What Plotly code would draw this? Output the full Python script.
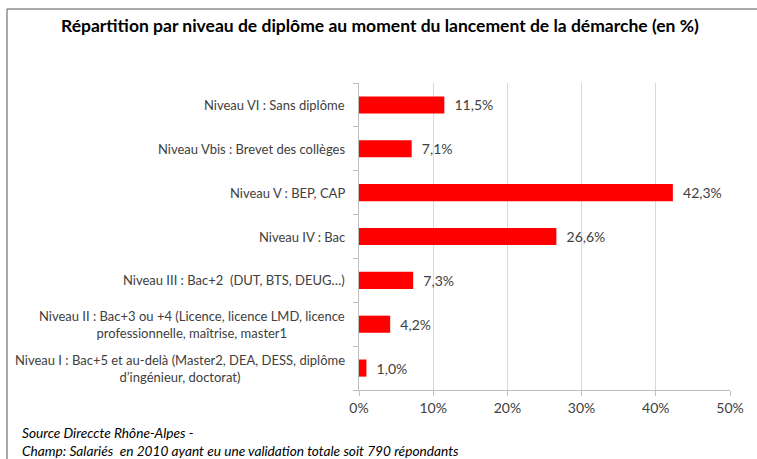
import plotly.graph_objects as go

categories = [
    "Niveau VI : Sans diplôme",
    "Niveau Vbis : Brevet des collèges",
    "Niveau V : BEP, CAP",
    "Niveau IV : Bac",
    "Niveau III : Bac+2  (DUT, BTS, DEUG…)",
    "Niveau II : Bac+3 ou +4 (Licence, licence LMD, licence<br>professionnelle, maîtrise, master1",
    "Niveau I : Bac+5 et au-delà (Master2, DEA, DESS, diplôme<br>d’ingénieur, doctorat)",
]
values = [11.5, 7.1, 42.3, 26.6, 7.3, 4.2, 1.0]
x_ticks = [0, 10, 20, 30, 40, 50]
x_ticklabels = ["0%", "10%", "20%", "30%", "40%", "50%"]

FONT = "Lato, Calibri, Carlito, sans-serif"
W, H = 757, 459
L, R, T, B = 359, 27, 83, 69
pw, ph = W - L - R, H - T - B

def px2x(px):
    return (px - L) / pw

def py2y(py):
    return (H - B - py) / ph

ids = list(range(len(categories)))

fig = go.Figure()
fig.add_trace(go.Bar(
    x=values, y=ids, orientation="h",
    marker=dict(color="#FF0000", line=dict(width=0)),
    width=0.39,
    text=values,
    texttemplate="\u00a0\u00a0%{x:.1f}%",
    textposition="outside",
    cliponaxis=False,
    textfont=dict(family=FONT, size=14, color="#404040"),
    hoverinfo="skip",
))

annotations = []
for i, c in zip(ids, categories):
    annotations.append(dict(
        x=0, xref="paper", y=i, yref="y", text=c, showarrow=False,
        xanchor="right", yanchor="middle", align="center", xshift=-12,
        font=dict(family=FONT, size=13, color="#404040"),
    ))

annotations.append(dict(
    x=px2x(380), xref="paper", y=py2y(26), yref="paper",
    text="<b>Répartition par niveau de diplôme au moment du lancement de la démarche (en %)</b>",
    showarrow=False, xanchor="center", yanchor="middle",
    font=dict(family=FONT, size=17.5, color="#000000"),
))
annotations.append(dict(
    x=px2x(20), xref="paper", y=py2y(432), yref="paper",
    text="<i>Source Direccte Rhône-Alpes -</i>",
    showarrow=False, xanchor="left", yanchor="middle",
    font=dict(family=FONT, size=13.7, color="#000000"),
))
annotations.append(dict(
    x=px2x(20), xref="paper", y=py2y(450), yref="paper",
    text="<i>Champ: Salariés  en 2010 ayant eu une validation totale soit 790 répondants</i>",
    showarrow=False, xanchor="left", yanchor="middle",
    font=dict(family=FONT, size=13.7, color="#000000"),
))

shapes = [
    dict(type="line", xref="paper", yref="paper",
         x0=px2x(7), x1=px2x(757), y0=py2y(9), y1=py2y(9),
         line=dict(color="#8c8c8c", width=1.5)),
    dict(type="line", xref="paper", yref="paper",
         x0=px2x(7), x1=px2x(7), y0=py2y(9), y1=py2y(459),
         line=dict(color="#8c8c8c", width=1.5)),
]

fig.update_layout(
    width=W, height=H,
    margin=dict(l=L, r=R, t=T, b=B),
    paper_bgcolor="white", plot_bgcolor="white",
    showlegend=False,
    separators=", ",
    annotations=annotations,
    shapes=shapes,
)
fig.update_xaxes(
    range=[0, 50], tickvals=x_ticks, ticktext=x_ticklabels,
    showgrid=True, gridcolor="#d9d9d9", gridwidth=1,
    showline=True, linecolor="#bfbfbf", linewidth=1,
    ticks="outside", ticklen=5, tickcolor="#bfbfbf",
    tickfont=dict(family=FONT, size=14, color="#404040"),
    zeroline=False, fixedrange=True,
)
fig.update_yaxes(
    type="linear", range=[len(categories) - 0.5, -0.5],
    tickvals=[i + 0.5 for i in range(-1, len(categories))],
    showticklabels=False,
    showgrid=False, zeroline=False,
    showline=True, linecolor="#bfbfbf", linewidth=1,
    ticks="outside", ticklen=5, tickcolor="#bfbfbf",
    fixedrange=True,
)

fig.write_html(
    "out.html",
    config={"displayModeBar": False},
    post_script="document.body.style.margin='0';document.body.style.overflow='hidden';",
)
